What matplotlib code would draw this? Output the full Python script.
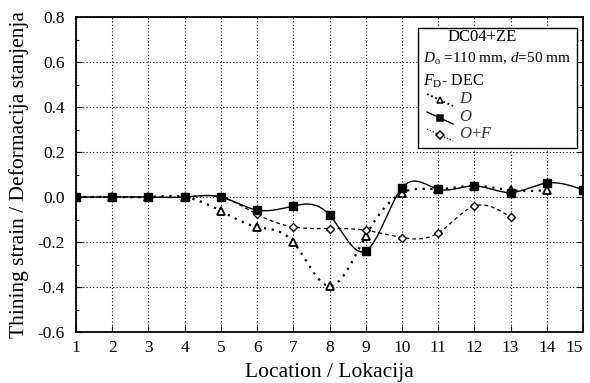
import numpy as np
import matplotlib
matplotlib.use('Agg')
import matplotlib.pyplot as plt
from matplotlib.lines import Line2D
from matplotlib.patches import Rectangle

# measured thinning strain at each location
loc_D = [1, 2, 3, 4, 5, 6, 7, 8, 9, 10, 11, 12, 13, 14]
strain_D = [0, 0, 0, 0, -0.062, -0.133, -0.2, -0.396, -0.173, 0.018, 0.035, 0.05, 0.03, 0.03]

loc_O = [1, 2, 3, 4, 5, 6, 7, 8, 9, 10, 11, 12, 13, 14, 15]
strain_O = [0, 0, 0, 0, 0, -0.058, -0.04, -0.08, -0.24, 0.04, 0.035, 0.049, 0.02, 0.062, 0.032]

loc_OF = [1, 2, 3, 4, 5, 6, 7, 8, 9, 10, 11, 12, 13]
strain_OF = [0, 0, 0, 0, 0, -0.077, -0.133, -0.14, -0.148, -0.18, -0.16, -0.04, -0.089]

xticks = list(range(1, 16))
yticks = [-0.6, -0.4, -0.2, 0.0, 0.2, 0.4, 0.6, 0.8]


def spline(x, y, n=40):
    # natural cubic spline through the points
    x = np.asarray(x, float)
    y = np.asarray(y, float)
    k = len(x)
    h = np.diff(x)
    A = np.zeros((k, k))
    b = np.zeros(k)
    A[0, 0] = A[-1, -1] = 1
    for i in range(1, k - 1):
        A[i, i - 1] = h[i - 1]
        A[i, i] = 2 * (h[i - 1] + h[i])
        A[i, i + 1] = h[i]
        b[i] = 6 * ((y[i + 1] - y[i]) / h[i] - (y[i] - y[i - 1]) / h[i - 1])
    M = np.linalg.solve(A, b)
    xs, ys = [], []
    for i in range(k - 1):
        t = np.linspace(x[i], x[i + 1], n)
        a = x[i + 1] - t
        c = t - x[i]
        s = (M[i] * a ** 3 + M[i + 1] * c ** 3) / (6 * h[i]) \
            + (y[i] / h[i] - M[i] * h[i] / 6) * a \
            + (y[i + 1] / h[i] - M[i + 1] * h[i] / 6) * c
        xs.append(t)
        ys.append(s)
    return np.concatenate(xs), np.concatenate(ys)


plt.rcParams['font.family'] = 'Liberation Serif'
plt.rcParams['mathtext.fontset'] = 'custom'
plt.rcParams['mathtext.it'] = 'Liberation Serif:italic'
plt.rcParams['mathtext.rm'] = 'Liberation Serif'

fig = plt.figure(figsize=(5.9, 3.83), dpi=100)
ax = fig.add_axes([76 / 590, 1 - 332 / 383, 507 / 590, 315 / 383])

ax.set_xlim(1, 15)
ax.set_ylim(-0.6, 0.8)
ax.set_xticks(xticks)
ax.set_yticks(yticks)
ax.set_yticks(np.arange(-0.6, 0.81, 0.1), minor=True)
ax.set_yticklabels(['%.1f' % v for v in yticks])
ax.tick_params(direction='in', top=False, right=True, labelsize=12.5, length=4, width=0.8)
ax.tick_params(axis='y', pad=8)
ax.tick_params(axis='x', pad=6)
ax.tick_params(which='minor', direction='in', right=True, length=2.5, width=0.8)
ax.grid(True, which='major', color='black', linestyle=(0, (1, 2)), linewidth=0.8)
for sp in ax.spines.values():
    sp.set_linewidth(1.3)

# keep the last x label inside the figure
ax.get_xticklabels()[-1].set_horizontalalignment('right')
ax.get_xticklabels()[-1].set_x(15.18)

# D - dotted with open triangles
sx, sy = spline(loc_D, strain_D)
ax.plot(sx, sy, color='black', linestyle=(0, (1, 2.5)), linewidth=1.6, zorder=3)
ax.plot(loc_D, strain_D, linestyle='none', marker='^', markersize=6,
        markerfacecolor='white', markeredgecolor='black', markeredgewidth=1.3, zorder=4)

# O - solid with filled squares
sx, sy = spline(loc_O, strain_O)
ax.plot(sx, sy, color='black', linestyle='-', linewidth=1.0, zorder=3)
ax.plot(loc_O, strain_O, linestyle='none', marker='s', markersize=6,
        markerfacecolor='black', markeredgecolor='black', zorder=5)

# O+F - dashed with open diamonds
sx, sy = spline(loc_OF, strain_OF)
ax.plot(sx, sy, color='black', linestyle=(0, (3, 2.5)), linewidth=0.9, zorder=3)
ax.plot(loc_OF, strain_OF, linestyle='none', marker='D', markersize=4.5,
        markerfacecolor='white', markeredgecolor='black', markeredgewidth=1.0, zorder=4)

ax.set_xlabel('Location / Lokacija', fontsize=15.5, labelpad=5)
ax.set_ylabel('Thining strain / Deformacija stanjenja', fontsize=15.5, labelpad=6)

# legend box drawn by hand
tr = ax.transAxes
def ax_xy(px, py):
    return ((px - 76) / 507, (332 - py) / 315)

x0, y0 = ax_xy(418, 148)
x1, y1 = ax_xy(577, 28)
ax.add_patch(Rectangle((x0, y0), x1 - x0, y1 - y0, transform=tr, facecolor='white',
                       edgecolor='black', linewidth=1.0, zorder=6))
ax.text(*ax_xy(482, 37), 'DC04+ZE', transform=tr, fontsize=12, ha='center', va='center', zorder=7)
ax.text(*ax_xy(423, 59), r'$D_{\mathrm{o}}$ =110 mm, $d$=50 mm', transform=tr, fontsize=11,
        ha='left', va='center', zorder=7)
ax.text(*ax_xy(423, 81), r'$F_{\mathrm{D}}$- DEC', transform=tr, fontsize=11.5,
        ha='left', va='center', zorder=7)

entries = [
    ('D', (0, (1, 1.5)), 1.3, '^', 'white', 5, 100),
    ('O', '-', 1.0, 's', 'black', 5, 118),
    ('O+F', (0, (1, 1.5)), 0.9, 'D', 'white', 4, 135),
]
for lab, ls, lw, mk, fc, ms, py in entries:
    xa, ya = ax_xy(427, py - 6)
    xb, yb = ax_xy(453, py + 6)
    ax.add_line(Line2D([xa, xb], [ya, yb], transform=tr, color='black', linestyle=ls,
                       linewidth=lw, zorder=7))
    xm, ym = ax_xy(440, py)
    ax.add_line(Line2D([xm], [ym], transform=tr, marker=mk, markersize=ms,
                       markerfacecolor=fc, markeredgecolor='black', markeredgewidth=1.1, zorder=8))
    ax.text(*ax_xy(459, py - 1), '$' + lab.replace('+', '{+}') + '$', transform=tr, fontsize=12,
            ha='left', va='center', zorder=7, color='#333333')

fig.savefig('out.png', dpi=100)
